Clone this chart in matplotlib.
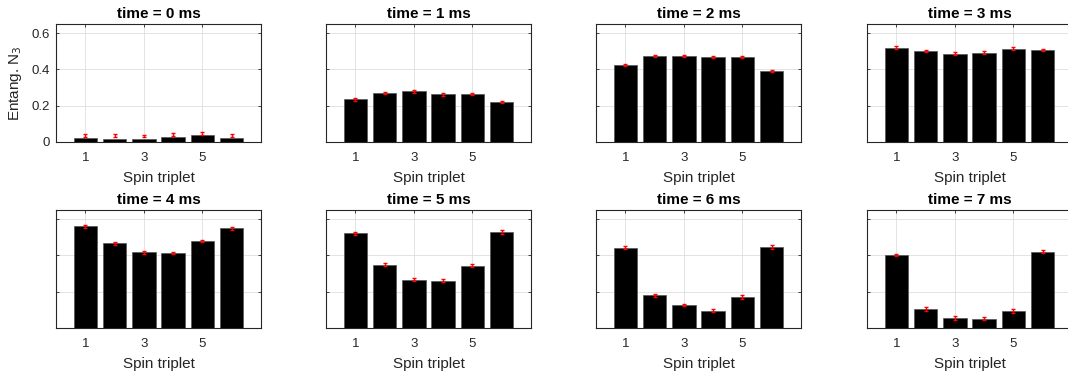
import numpy as np
import matplotlib
matplotlib.use("Agg")
import matplotlib.pyplot as plt

plt.rcParams['font.family'] = ['Liberation Sans', 'DejaVu Sans']

triplets = [1, 2, 3, 4, 5, 6]
times_ms = [0, 1, 2, 3, 4, 5, 6, 7]

# bar heights (entanglement N3) per time step
n3_t0 = [0.022, 0.018, 0.018, 0.028, 0.039, 0.024]
n3_t1 = [0.236, 0.270, 0.279, 0.264, 0.264, 0.220]
n3_t2 = [0.425, 0.473, 0.473, 0.467, 0.467, 0.391]
n3_t3 = [0.519, 0.500, 0.487, 0.493, 0.515, 0.508]
n3_t4 = [0.560, 0.466, 0.417, 0.413, 0.479, 0.549]
n3_t5 = [0.521, 0.349, 0.267, 0.260, 0.342, 0.529]
n3_t6 = [0.443, 0.181, 0.126, 0.095, 0.172, 0.446]
n3_t7 = [0.401, 0.104, 0.055, 0.051, 0.093, 0.419]

# error bar centres (t=0 sits slightly above the bars)
mid_t0 = [0.034, 0.035, 0.033, 0.040, 0.048, 0.035]

# error bar half widths
err_t0 = [0.008, 0.008, 0.008, 0.008, 0.009, 0.008]
err_t1 = [0.008, 0.008, 0.008, 0.008, 0.007, 0.007]
err_t2 = [0.005, 0.006, 0.006, 0.006, 0.006, 0.005]
err_t3 = [0.008, 0.006, 0.007, 0.008, 0.007, 0.006]
err_t4 = [0.008, 0.008, 0.008, 0.008, 0.008, 0.007]
err_t5 = [0.007, 0.008, 0.009, 0.009, 0.008, 0.010]
err_t6 = [0.009, 0.009, 0.007, 0.007, 0.010, 0.009]
err_t7 = [0.007, 0.009, 0.009, 0.007, 0.009, 0.008]

bars = [n3_t0, n3_t1, n3_t2, n3_t3, n3_t4, n3_t5, n3_t6, n3_t7]
mids = [mid_t0, n3_t1, n3_t2, n3_t3, n3_t4, n3_t5, n3_t6, n3_t7]
errs = [err_t0, err_t1, err_t2, err_t3, err_t4, err_t5, err_t6, err_t7]

W, H = 1068, 379
fig = plt.figure(figsize=(W / 100, H / 100), dpi=100)

lefts = [56, 326, 596, 867]
tops = [24, 210]
aw, ah = 205, 118
txt = '#262626'

for k, t in enumerate(times_ms):
    row, col = divmod(k, 4)
    x0 = lefts[col] / W
    y0 = 1 - (tops[row] + ah) / H
    ax = fig.add_axes([x0, y0, aw / W, ah / H])

    ax.bar(triplets, bars[k], width=0.8, color='black',
           edgecolor='#555555', linewidth=0.5, zorder=3)
    ax.errorbar(triplets, mids[k], yerr=errs[k], fmt='none', ecolor='red',
                elinewidth=1.0, capsize=1.5, capthick=1.0, zorder=4)

    ax.set_xlim(0, 7)
    ax.set_ylim(0, 0.65)
    ax.set_xticks([1, 3, 5])
    ax.set_yticks([0, 0.2, 0.4, 0.6])
    ax.grid(True, color='#dedede', linewidth=0.6, zorder=0)
    ax.set_axisbelow(True)
    ax.tick_params(direction='in', length=2.5, width=0.6, top=True,
                   right=True, labelsize=9.5, colors=txt)
    ax.tick_params(axis='x', pad=7.5)
    ax.tick_params(axis='y', pad=4.5)
    for s in ax.spines.values():
        s.set_color(txt)
        s.set_linewidth(0.8)

    if k == 0:
        ax.set_yticklabels(['0', '0.2', '0.4', '0.6'])
        ax.set_ylabel('Entang. N$_3$', fontsize=11, color=txt, labelpad=5)
    else:
        ax.set_yticklabels([])

    ax.set_xlabel('Spin triplet', fontsize=11, color=txt, labelpad=5)
    ax.set_title('time = %d ms' % t, fontsize=11, fontweight='bold', pad=4)

fig.savefig('out.png', dpi=100)
